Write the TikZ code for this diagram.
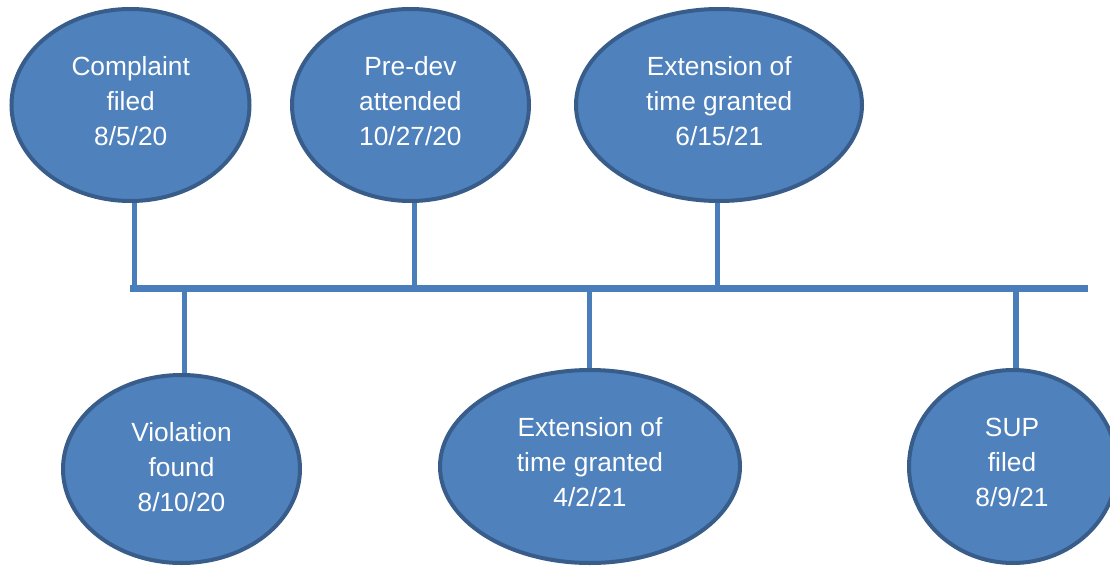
\documentclass[tikz,border=0pt]{standalone}
\usepackage{fontspec}
\setmainfont{Liberation Sans}
\usetikzlibrary{shapes.geometric,backgrounds}
\definecolor{efill}{HTML}{4F81BD}
\definecolor{edraw}{HTML}{385D8A}
\definecolor{lcol}{HTML}{4A7EBB}
\tikzset{
  event/.style={ellipse, fill=efill, draw=edraw, line width=4pt, inner sep=0pt},
  evtext/.style={text=white, align=center, inner sep=0pt,
    font=\fontsize{26.3pt}{35pt}\selectfont},
  stem/.style={draw=lcol, line width=5.3pt},
  axis/.style={draw=lcol, line width=7pt}
}
\begin{document}
\begin{tikzpicture}[x=1pt,y=-1pt]
\useasboundingbox (0,0) rectangle (1110,567);
\clip (0,0) rectangle (1110,567);
% events above
\node[event, minimum width=238pt, minimum height=192pt] (e1) at (130.5,105) {};
\node[event, minimum width=237pt, minimum height=192pt] (e2) at (410.5,105) {};
\node[event, minimum width=286pt, minimum height=192pt] (e3) at (719,105) {};
% events below
\node[event, minimum width=237pt, minimum height=188pt] (e4) at (181.5,469) {};
\node[event, minimum width=300pt, minimum height=193pt] (e5) at (590,466.5) {};
\node[event, minimum width=208pt, minimum height=193pt] (e6) at (1013,466.5) {};
% texts
\node[evtext] (t1) at (130.7,101.5) {Complaint\\filed\\8/5/20};
\node[evtext] (t2) at (410.4,101.5) {Pre-dev\\attended\\10/27/20};
\node[evtext] (t3) at (719.3,101.5) {Extension of\\time granted\\6/15/21};
\node[evtext] (t4) at (181.5,467) {Violation\\found\\8/10/20};
\node[evtext] (t5) at (590,462.5) {Extension of\\time granted\\4/2/21};
\node[evtext] (t6) at (1012,462.5) {SUP\\filed\\8/9/21};
% axis coordinates
\coordinate (L) at (130.4,288.3);
\coordinate (R) at (1087.5,288.3);
\coordinate (a1) at (134.8,288.3);
\coordinate (a2) at (414.3,288.3);
\coordinate (a3) at (717.5,288.3);
\coordinate (a4) at (184.8,288.3);
\coordinate (a5) at (589.4,288.3);
\coordinate (a6) at (1016,288.3);
\begin{pgfonlayer}{background}
\draw[stem] (e1.south -| a1) -- (a1);
\draw[stem] (e2.south -| a2) -- (a2);
\draw[stem] (e3.south -| a3) -- (a3);
\draw[stem] (e4.north -| a4) -- (a4);
\draw[stem] (e5.north -| a5) -- (a5);
\draw[stem] (e6.north -| a6) -- (a6);
\draw[axis] (L) -- (R);
\end{pgfonlayer}
\end{tikzpicture}
\end{document}
